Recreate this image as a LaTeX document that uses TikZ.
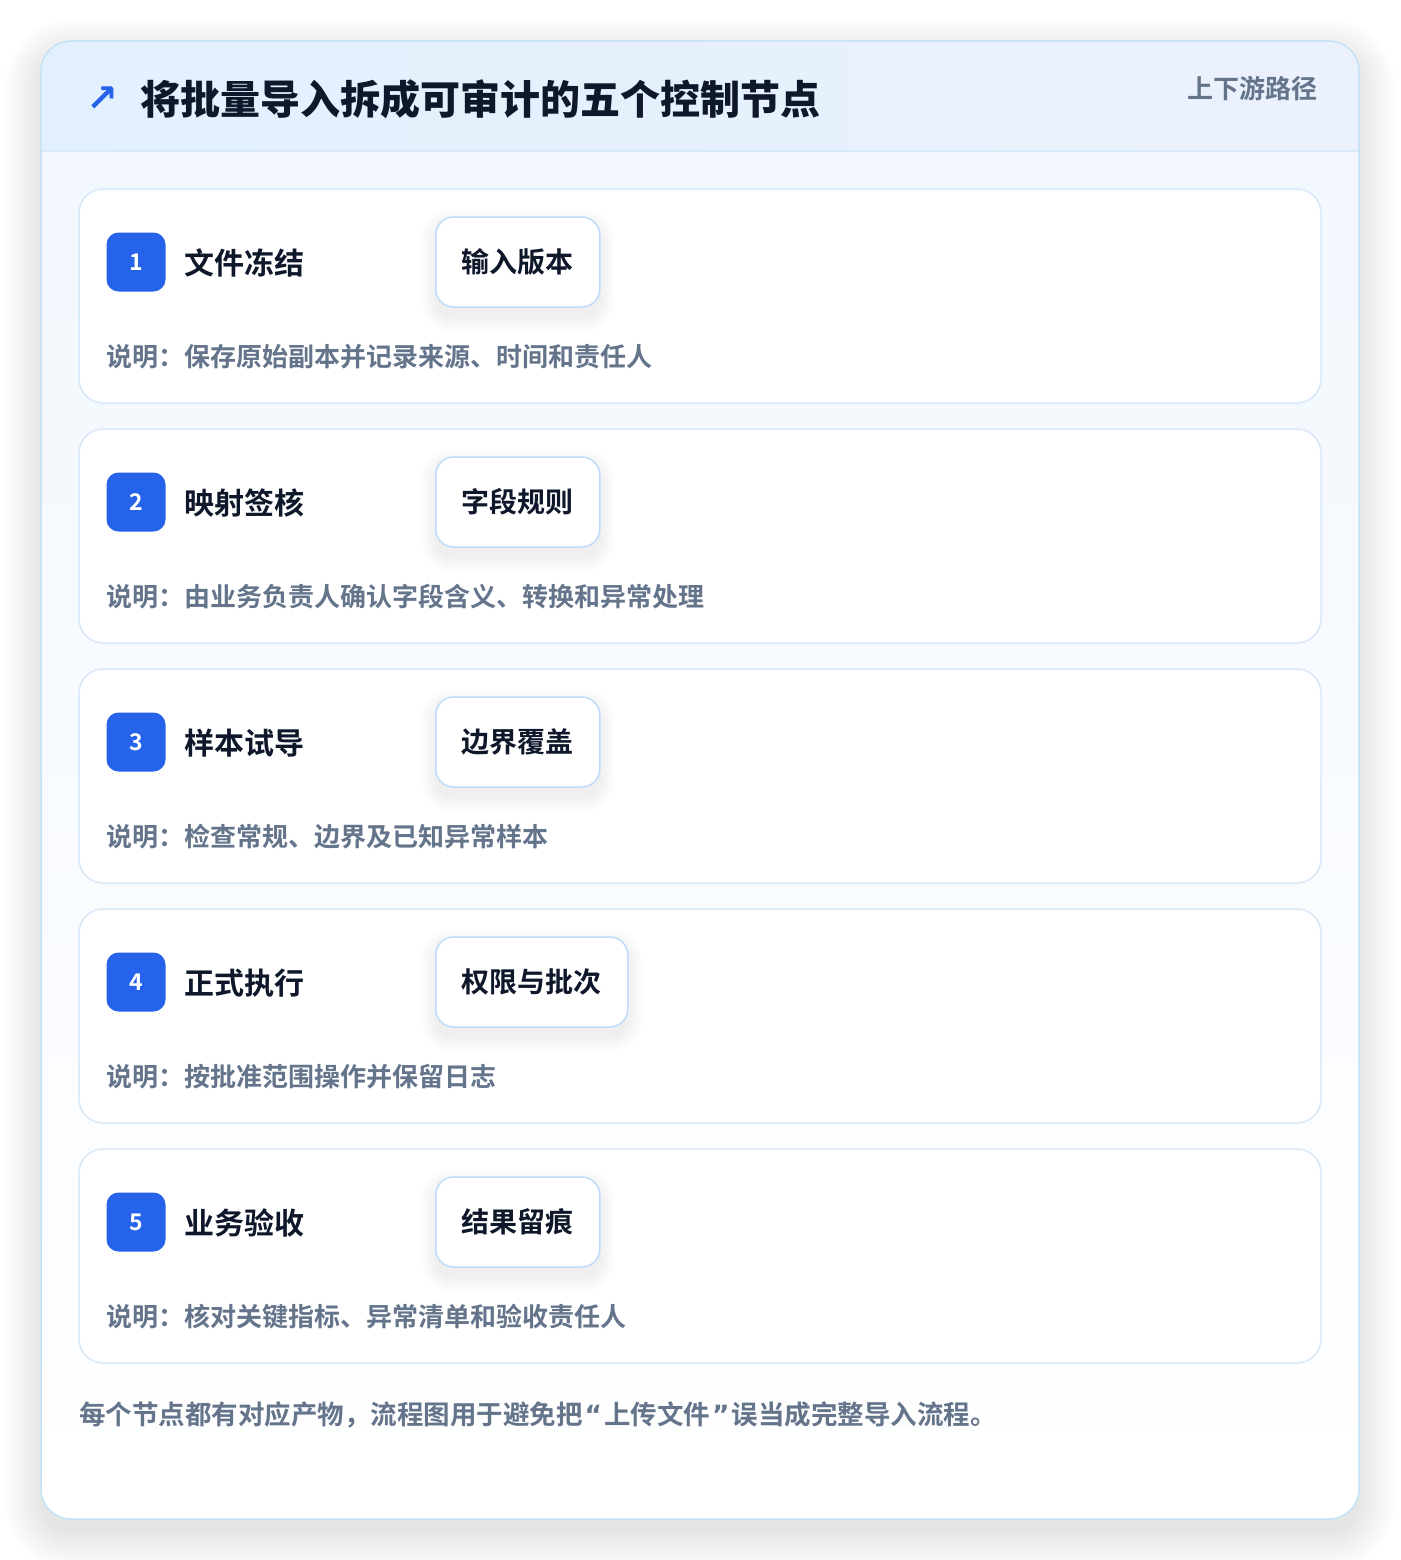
\documentclass[tikz,border=0pt]{standalone}
\usepackage{fontspec}
\setmainfont{Noto Sans CJK SC}[BoldFont={Noto Sans CJK SC Bold}]
\newfontfamily\heavyfont{Noto Sans CJK SC Black}
\newfontfamily\symfont{DejaVu Sans}[BoldFont={DejaVu Sans Bold}]
\definecolor{brand}{HTML}{2563EB}
\definecolor{ink}{HTML}{0F172A}
\definecolor{muted}{HTML}{64748B}
\definecolor{cardline}{HTML}{C4E2F6}
\definecolor{boxline}{HTML}{D8E9FA}
\definecolor{tagline}{HTML}{BFDBFE}
\definecolor{headA}{HTML}{E2F0FD}
\definecolor{headB}{HTML}{EBF1FD}
\definecolor{bodyA}{HTML}{F1F7FE}
\definecolor{shade}{HTML}{1E293B}
\newcommand{\fsz}[1]{\fontsize{#1}{#1}\selectfont\bfseries}
\newcommand{\qt}[1]{{\symfont\bfseries\hspace{2pt}#1\hspace{2pt}}}
\tikzset{
  stepcard/.style={fill=white, draw=boxline, line width=1.5pt, rounded corners=24pt},
  badge/.style={fill=brand, rounded corners=12pt, minimum size=59pt, inner sep=0pt, text=white, font=\fsz{23}},
  steptitle/.style={anchor=west, inner sep=0pt, text=ink, font=\fsz{30}},
  tagbox/.style={anchor=west, fill=white, draw=tagline, line width=1.5pt, rounded corners=18pt,
    minimum height=90pt, inner xsep=26pt, text=ink, font=\fsz{28}},
  note/.style={anchor=west, inner sep=0pt, text=muted, font=\fsz{26}},
  haze/.style={fill=shade, fill opacity=#1}
}
\begin{document}
\begin{tikzpicture}[x=1pt, y=-1pt, line join=round]
  \useasboundingbox[fill=white] (0,0) rectangle (1400,1560);
  % card shadow, soft layers
  \foreach \k in {0,3,...,36}
    \fill[haze=0.006, rounded corners=30pt+\k pt] (41-\k,55-\k) rectangle (1359+\k,1533+\k);
  % card
  \path[rounded corners=30pt, top color=bodyA, bottom color=white] (41,41) rectangle (1359,1519);
  \begin{scope}
    \clip[rounded corners=30pt] (41,41) rectangle (1359,1519);
    \shade[left color=headA, right color=headB] (41,41) rectangle (1359,151);
  \end{scope}
  \draw[boxline, line width=1.5pt] (41,151) -- (1359,151);
  \draw[cardline, line width=1.5pt, rounded corners=30pt] (41,41) rectangle (1359,1519);
  % header
  \node[text=brand, font=\symfont\bfseries\fontsize{38}{38}\selectfont, inner sep=0pt] (icon) at (102,99) {↗};
  \node[anchor=west, inner sep=0pt, text=ink, font=\heavyfont\fontsize{40}{40}\selectfont] (heading) at (140,99) {将批量导入拆成可审计的五个控制节点};
  \node[anchor=east, inner sep=0pt, text=muted, font=\fsz{26}] (route) at (1318,89) {上下游路径};
  % steps
  \foreach \name/\tag/\desc [count=\i, evaluate=\i as \t using 189+240*(\i-1)] in {
    文件冻结/输入版本/说明：保存原始副本并记录来源、时间和责任人,
    映射签核/字段规则/说明：由业务负责人确认字段含义、转换和异常处理,
    样本试导/边界覆盖/说明：检查常规、边界及已知异常样本,
    正式执行/权限与批次/说明：按批准范围操作并保留日志,
    业务验收/结果留痕/说明：核对关键指标、异常清单和验收责任人}
  {
    \draw[stepcard] (79,\t) rectangle (1321,\t+214);
    \node[badge] (badge\i) at (136,\t+73) {\i};
    \node[steptitle] (title\i) at (184,\t+74) {\name};
    \node[tagbox, opacity=0] (ghost\i) at (435,\t+73) {\tag};
    \foreach \k in {0,2,...,14}
      \fill[haze=0.007, rounded corners=18pt+\k pt] ([xshift=-\k pt, yshift=-6pt+\k pt]ghost\i.north west) rectangle ([xshift=\k pt, yshift=-10pt-\k pt]ghost\i.south east);
    \node[tagbox] (tag\i) at (435,\t+73) {\tag};
    \node[note] (desc\i) at (106,\t+168) {\desc};
  }
  % footer
  \node[anchor=west, inner sep=0pt, text=muted, font=\fsz{26.5}] (footer) at (79,1415) {每个节点都有对应产物，流程图用于避免把\qt{“}上传文件\qt{”}误当成完整导入流程。};
\end{tikzpicture}
\end{document}
